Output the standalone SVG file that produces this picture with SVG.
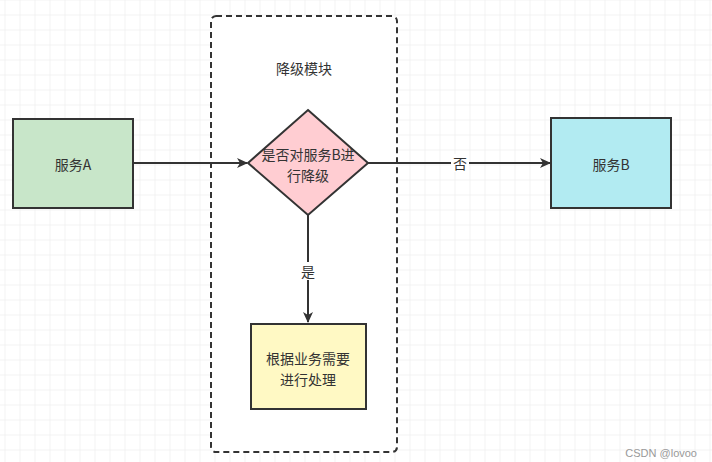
<svg xmlns="http://www.w3.org/2000/svg" width="712" height="462" viewBox="0 0 712 462">
<defs>
<pattern id="grid" x="4.5" y="14.5" width="15" height="15" patternUnits="userSpaceOnUse">
<path d="M0 0H15M0 0V15" fill="none" stroke="#e8e8e8" stroke-width="1"/>
</pattern>
<marker id="arr" markerWidth="12" markerHeight="10" refX="10" refY="5" orient="auto" markerUnits="userSpaceOnUse">
<path d="M0 0L11 5L0 10L3 5Z" fill="#333"/>
</marker>
<style>
.box{stroke:#333;stroke-width:2}
.t{font-family:"Noto Sans CJK SC","Liberation Sans",sans-serif;font-size:14px;fill:#333;text-anchor:middle;dominant-baseline:central}
.edge{fill:none;stroke:#333;stroke-width:2}
</style>
</defs>
<rect width="712" height="462" fill="#fff"/>
<rect width="712" height="462" fill="url(#grid)"/>
<g id="module">
<rect x="211" y="16" width="186" height="436" rx="5" fill="#fff" stroke="#333" stroke-width="2" stroke-dasharray="6,4"/>
<text class="t" x="304" y="68">降级模块</text>
</g>
<g id="serviceA">
<rect class="box" x="13" y="119" width="120" height="89" fill="#c8e6c9"/>
<text class="t" x="73" y="164">服务A</text>
</g>
<g id="decision">
<polygon class="box" points="308,110 368,163 308,215 248,163" fill="#ffcdd2"/>
<text class="t" x="308" y="153.5"><tspan x="308" y="153.5">是否对服务B进</tspan><tspan x="308" y="174.5">行降级</tspan></text>
</g>
<g id="serviceB">
<rect class="box" x="551" y="118" width="120" height="90" fill="#b2ebf2"/>
<text class="t" x="611" y="164">服务B</text>
</g>
<g id="handle">
<rect class="box" x="251" y="324" width="115" height="85" fill="#fff9c4"/>
<text class="t" x="308" y="357.5"><tspan x="308" y="357.5">根据业务需要</tspan><tspan x="308" y="378.5">进行处理</tspan></text>
</g>
<g id="connectors">
<path class="edge" d="M133 163H247" marker-end="url(#arr)"/>
<path class="edge" d="M368 163H550" marker-end="url(#arr)"/>
<rect x="451" y="154" width="18" height="18" fill="#fff"/>
<text class="t" x="460" y="163">否</text>
<path class="edge" d="M308 215V322" marker-end="url(#arr)"/>
<rect x="299" y="262" width="18" height="18" fill="#fff"/>
<text class="t" x="308" y="271">是</text>
</g>
<text x="697" y="457" font-family="Liberation Sans,sans-serif" font-size="11" fill="#999" text-anchor="end">CSDN @lovoo</text>
</svg>
